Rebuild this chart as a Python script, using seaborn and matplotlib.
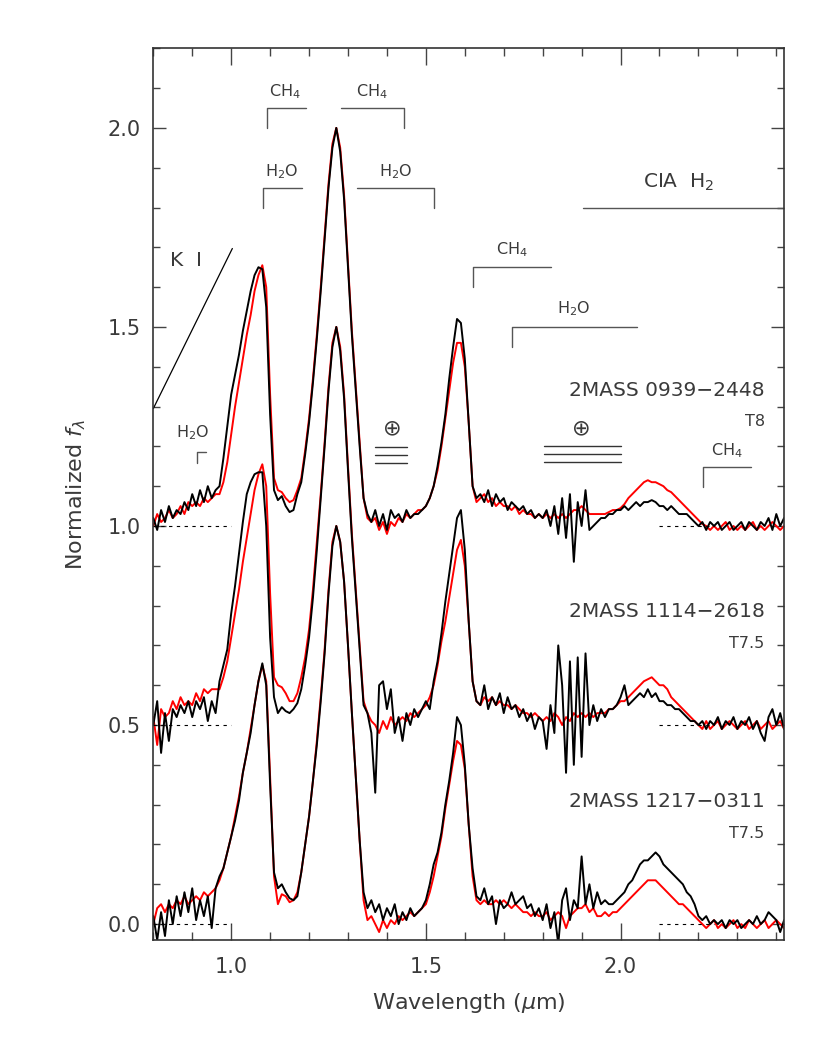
import numpy as np
import pandas as pd
import matplotlib
matplotlib.use('Agg')
import matplotlib.pyplot as plt
from matplotlib.ticker import MultipleLocator, FormatStrFormatter
import seaborn as sns

sns.set_style('ticks')
plt.rcParams['font.family'] = ['DejaVu Sans']
plt.rcParams['mathtext.fontset'] = 'dejavusans'

# wavelength grid (micron) shared by all spectra
wavelength = [
    0.80, 0.81, 0.82, 0.83, 0.84, 0.85, 0.86, 0.87, 0.88, 0.89,
    0.90, 0.91, 0.92, 0.93, 0.94, 0.95, 0.96, 0.97, 0.98, 0.99,
    1.00, 1.01, 1.02, 1.03, 1.04, 1.05, 1.06, 1.07, 1.08, 1.09,
    1.10, 1.11, 1.12, 1.13, 1.14, 1.15, 1.16, 1.17, 1.18, 1.19,
    1.20, 1.21, 1.22, 1.23, 1.24, 1.25, 1.26, 1.27, 1.28, 1.29,
    1.30, 1.31, 1.32, 1.33, 1.34, 1.35, 1.36, 1.37, 1.38, 1.39,
    1.40, 1.41, 1.42, 1.43, 1.44, 1.45, 1.46, 1.47, 1.48, 1.49,
    1.50, 1.51, 1.52, 1.53, 1.54, 1.55, 1.56, 1.57, 1.58, 1.59,
    1.60, 1.61, 1.62, 1.63, 1.64, 1.65, 1.66, 1.67, 1.68, 1.69,
    1.70, 1.71, 1.72, 1.73, 1.74, 1.75, 1.76, 1.77, 1.78, 1.79,
    1.80, 1.81, 1.82, 1.83, 1.84, 1.85, 1.86, 1.87, 1.88, 1.89,
    1.90, 1.91, 1.92, 1.93, 1.94, 1.95, 1.96, 1.97, 1.98, 1.99,
    2.00, 2.01, 2.02, 2.03, 2.04, 2.05, 2.06, 2.07, 2.08, 2.09,
    2.10, 2.11, 2.12, 2.13, 2.14, 2.15, 2.16, 2.17, 2.18, 2.19,
    2.20, 2.21, 2.22, 2.23, 2.24, 2.25, 2.26, 2.27, 2.28, 2.29,
    2.30, 2.31, 2.32, 2.33, 2.34, 2.35, 2.36, 2.37, 2.38, 2.39,
    2.40, 2.41, 2.42,
]

# normalized fluxes (peak of J band = 1), before vertical offsets
j0939_obs = [
    0.02, -0.01, 0.04, 0.01, 0.05, 0.02, 0.04, 0.03, 0.06, 0.04,
    0.08, 0.05, 0.09, 0.06, 0.10, 0.07, 0.09, 0.10, 0.17, 0.25,
    0.33, 0.38, 0.43, 0.49, 0.54, 0.59, 0.63, 0.65, 0.645, 0.55,
    0.28, 0.09, 0.065, 0.075, 0.05, 0.035, 0.04, 0.08, 0.11, 0.18,
    0.26, 0.36, 0.47, 0.59, 0.72, 0.85, 0.95, 1.00, 0.94, 0.82,
    0.65, 0.48, 0.34, 0.20, 0.07, 0.03, 0.01, 0.04, 0.00, 0.03,
    -0.01, 0.04, 0.02, 0.03, 0.01, 0.04, 0.02, 0.03, 0.03, 0.04,
    0.05, 0.07, 0.10, 0.15, 0.21, 0.28, 0.37, 0.45, 0.52, 0.51,
    0.42, 0.26, 0.10, 0.07, 0.08, 0.06, 0.09, 0.05, 0.08, 0.06,
    0.07, 0.04, 0.06, 0.05, 0.04, 0.05, 0.03, 0.04, 0.02, 0.03,
    0.02, 0.04, 0.00, 0.05, -0.02, 0.07, -0.03, 0.08, -0.09, 0.06,
    0.00, 0.09, -0.01, 0.00, 0.01, 0.02, 0.02, 0.03, 0.03, 0.04,
    0.04, 0.05, 0.04, 0.05, 0.06, 0.05, 0.06, 0.06, 0.065, 0.06,
    0.05, 0.05, 0.04, 0.05, 0.04, 0.03, 0.03, 0.03, 0.02, 0.01,
    0.00, 0.01, -0.01, 0.01, 0.00, 0.01, -0.01, 0.00, 0.01, -0.01,
    0.00, 0.01, -0.01, 0.01, 0.00, -0.01, 0.01, 0.00, 0.02, -0.01,
    0.03, 0.00, 0.02,
]
j0939_std = [
    0.00, 0.03, 0.01, 0.02, 0.04, 0.02, 0.03, 0.05, 0.03, 0.06,
    0.05, 0.06, 0.05, 0.07, 0.06, 0.07, 0.08, 0.08, 0.11, 0.16,
    0.23, 0.30, 0.36, 0.42, 0.48, 0.53, 0.59, 0.63, 0.655, 0.60,
    0.33, 0.12, 0.09, 0.085, 0.07, 0.06, 0.065, 0.09, 0.12, 0.19,
    0.27, 0.37, 0.48, 0.60, 0.73, 0.86, 0.96, 1.00, 0.95, 0.83,
    0.66, 0.49, 0.35, 0.21, 0.07, 0.02, 0.01, 0.02, -0.01, 0.01,
    -0.02, 0.01, 0.00, 0.02, 0.01, 0.03, 0.02, 0.03, 0.04, 0.04,
    0.05, 0.07, 0.10, 0.14, 0.20, 0.27, 0.34, 0.41, 0.46, 0.46,
    0.40, 0.26, 0.10, 0.06, 0.07, 0.08, 0.06, 0.07, 0.05, 0.06,
    0.05, 0.05, 0.04, 0.05, 0.03, 0.04, 0.03, 0.03, 0.02, 0.03,
    0.02, 0.03, 0.02, 0.03, 0.02, 0.03, 0.02, 0.03, 0.04, 0.04,
    0.05, 0.04, 0.03, 0.03, 0.03, 0.03, 0.03, 0.035, 0.04, 0.04,
    0.045, 0.055, 0.07, 0.08, 0.09, 0.10, 0.11, 0.115, 0.11, 0.11,
    0.105, 0.10, 0.09, 0.085, 0.075, 0.065, 0.055, 0.045, 0.035, 0.025,
    0.015, 0.005, 0.00, -0.01, 0.00, -0.01, 0.00, 0.01, -0.01, 0.00,
    -0.01, 0.00, -0.01, 0.00, 0.01, -0.01, 0.00, -0.01, 0.00, 0.01,
    0.00, -0.01, 0.00,
]
j1114_obs = [
    0.00, 0.06, -0.07, 0.03, -0.04, 0.04, 0.02, 0.05, 0.03, 0.06,
    0.02, 0.06, 0.04, 0.07, 0.01, 0.06, 0.03, 0.11, 0.15, 0.19,
    0.28, 0.35, 0.43, 0.51, 0.58, 0.61, 0.63, 0.635, 0.635, 0.50,
    0.22, 0.07, 0.03, 0.045, 0.035, 0.03, 0.04, 0.055, 0.09, 0.15,
    0.22, 0.32, 0.44, 0.57, 0.70, 0.84, 0.95, 1.00, 0.94, 0.82,
    0.64, 0.47, 0.33, 0.19, 0.05, 0.03, -0.02, -0.17, 0.10, 0.11,
    0.04, 0.09, -0.02, 0.02, -0.04, 0.03, 0.00, 0.04, 0.02, 0.04,
    0.06, 0.04, 0.11, 0.16, 0.23, 0.31, 0.38, 0.45, 0.52, 0.54,
    0.44, 0.26, 0.11, 0.06, 0.05, 0.10, 0.04, 0.07, 0.05, 0.08,
    0.03, 0.07, 0.04, 0.05, 0.02, 0.04, 0.01, 0.03, -0.01, 0.02,
    0.01, -0.06, 0.05, -0.02, 0.20, 0.10, -0.12, 0.16, -0.10, 0.17,
    -0.08, 0.18, 0.00, 0.05, 0.01, 0.04, 0.02, 0.04, 0.04, 0.05,
    0.07, 0.10, 0.05, 0.06, 0.07, 0.08, 0.07, 0.09, 0.07, 0.08,
    0.06, 0.06, 0.05, 0.05, 0.04, 0.04, 0.03, 0.02, 0.01, 0.01,
    0.00, 0.01, -0.01, 0.01, 0.00, 0.02, -0.01, 0.01, 0.00, 0.02,
    -0.01, 0.01, 0.00, 0.02, -0.01, 0.01, -0.02, -0.04, 0.02, 0.04,
    0.00, 0.03, -0.01,
]
j1114_std = [
    0.02, -0.05, 0.04, 0.02, 0.03, 0.06, 0.04, 0.07, 0.05, 0.06,
    0.05, 0.08, 0.06, 0.09, 0.08, 0.09, 0.09, 0.09, 0.12, 0.16,
    0.22, 0.28, 0.34, 0.41, 0.47, 0.53, 0.59, 0.63, 0.655, 0.60,
    0.33, 0.12, 0.10, 0.095, 0.08, 0.06, 0.06, 0.08, 0.12, 0.17,
    0.24, 0.34, 0.46, 0.58, 0.71, 0.85, 0.96, 1.00, 0.95, 0.83,
    0.65, 0.48, 0.34, 0.20, 0.06, 0.03, 0.01, 0.00, -0.02, 0.01,
    -0.01, 0.02, 0.00, 0.01, 0.02, 0.01, 0.03, 0.02, 0.03, 0.04,
    0.05, 0.07, 0.10, 0.15, 0.21, 0.26, 0.32, 0.38, 0.44, 0.465,
    0.40, 0.26, 0.11, 0.06, 0.05, 0.07, 0.06, 0.07, 0.05, 0.06,
    0.05, 0.05, 0.04, 0.05, 0.04, 0.03, 0.03, 0.02, 0.03, 0.02,
    0.01, 0.02, 0.01, 0.03, 0.02, 0.00, 0.02, 0.01, 0.03, 0.02,
    0.03, 0.02, 0.03, 0.02, 0.03, 0.03, 0.03, 0.04, 0.04, 0.05,
    0.06, 0.06, 0.07, 0.08, 0.09, 0.10, 0.11, 0.115, 0.12, 0.11,
    0.10, 0.10, 0.09, 0.07, 0.06, 0.05, 0.04, 0.03, 0.02, 0.01,
    0.00, -0.01, 0.01, -0.01, 0.00, 0.01, -0.01, 0.00, 0.01, 0.00,
    -0.01, 0.00, 0.01, -0.01, 0.00, 0.01, -0.01, 0.00, 0.01, -0.01,
    0.00, 0.01, -0.01,
]
j1217_obs = [
    0.02, -0.04, 0.03, -0.03, 0.06, 0.00, 0.07, 0.02, 0.08, 0.03,
    0.09, 0.01, 0.06, 0.02, 0.07, -0.01, 0.09, 0.12, 0.14, 0.18,
    0.22, 0.26, 0.31, 0.38, 0.43, 0.48, 0.55, 0.61, 0.655, 0.60,
    0.35, 0.13, 0.09, 0.10, 0.08, 0.065, 0.06, 0.07, 0.13, 0.20,
    0.27, 0.36, 0.45, 0.56, 0.68, 0.83, 0.95, 1.00, 0.96, 0.86,
    0.70, 0.53, 0.37, 0.21, 0.08, 0.04, 0.06, 0.03, 0.05, 0.01,
    0.04, 0.02, 0.05, 0.00, 0.03, 0.01, 0.04, 0.02, 0.03, 0.04,
    0.06, 0.10, 0.15, 0.18, 0.23, 0.30, 0.36, 0.43, 0.52, 0.50,
    0.40, 0.25, 0.14, 0.07, 0.06, 0.09, 0.05, 0.07, 0.00, 0.06,
    0.04, 0.05, 0.08, 0.05, 0.06, 0.07, 0.04, 0.05, 0.02, 0.04,
    0.01, 0.05, -0.01, 0.03, -0.05, 0.06, 0.09, 0.01, 0.06, 0.04,
    0.17, 0.05, 0.10, 0.04, 0.08, 0.05, 0.06, 0.05, 0.05, 0.06,
    0.07, 0.08, 0.10, 0.11, 0.13, 0.15, 0.16, 0.16, 0.17, 0.18,
    0.17, 0.15, 0.14, 0.13, 0.12, 0.11, 0.10, 0.08, 0.07, 0.05,
    0.02, 0.01, 0.02, 0.00, 0.01, 0.00, 0.01, -0.01, 0.01, 0.00,
    0.01, -0.01, 0.00, 0.01, 0.00, 0.02, 0.00, 0.01, 0.03, 0.02,
    0.01, -0.02, 0.01,
]
j1217_std = [
    0.00, 0.04, 0.05, 0.03, 0.05, 0.04, 0.06, 0.05, 0.07, 0.05,
    0.06, 0.07, 0.06, 0.08, 0.07, 0.08, 0.09, 0.11, 0.14, 0.18,
    0.22, 0.27, 0.32, 0.38, 0.43, 0.49, 0.55, 0.61, 0.65, 0.61,
    0.37, 0.12, 0.05, 0.075, 0.07, 0.055, 0.06, 0.08, 0.13, 0.20,
    0.27, 0.36, 0.46, 0.57, 0.69, 0.84, 0.96, 1.00, 0.96, 0.86,
    0.70, 0.53, 0.37, 0.21, 0.06, 0.01, 0.02, 0.00, -0.02, 0.01,
    -0.01, 0.01, 0.00, 0.02, 0.01, 0.02, 0.03, 0.02, 0.03, 0.04,
    0.05, 0.08, 0.12, 0.17, 0.22, 0.29, 0.35, 0.41, 0.46, 0.45,
    0.39, 0.25, 0.12, 0.06, 0.05, 0.06, 0.05, 0.05, 0.06, 0.05,
    0.06, 0.05, 0.04, 0.05, 0.04, 0.03, 0.03, 0.02, 0.03, 0.02,
    0.02, 0.03, 0.01, 0.02, 0.03, 0.02, -0.01, 0.02, 0.03, 0.04,
    0.04, 0.05, 0.03, 0.04, 0.02, 0.02, 0.03, 0.02, 0.03, 0.03,
    0.04, 0.05, 0.06, 0.07, 0.08, 0.09, 0.10, 0.11, 0.11, 0.11,
    0.10, 0.09, 0.08, 0.07, 0.06, 0.05, 0.05, 0.04, 0.03, 0.02,
    0.01, 0.00, -0.01, 0.00, 0.01, -0.01, 0.00, -0.01, 0.00, 0.01,
    -0.01, 0.00, -0.01, 0.01, 0.00, -0.01, 0.00, 0.01, -0.01, 0.00,
    0.01, 0.00, -0.01,
]

names = ['2MASS 0939\u22122448', '2MASS 1114\u22122618', '2MASS 1217\u22120311']
sptypes = ['T8', 'T7.5', 'T7.5']
offsets = [1.0, 0.5, 0.0]
observed = [j0939_obs, j1114_obs, j1217_obs]
standards = [j0939_std, j1114_std, j1217_std]

frames = []
for name, off, obs, std in zip(names, offsets, observed, standards):
    for kind, flux in (('std', std), ('obs', obs)):
        frames.append(pd.DataFrame({'wavelength': wavelength,
                                    'flux': np.array(flux) + off,
                                    'object': name, 'kind': kind}))
df = pd.concat(frames, ignore_index=True)

txt = '#3a3a3a'
fig = plt.figure(figsize=(8.30, 10.38), dpi=100)
ax = fig.add_axes([0.1847, 0.0944, 0.76, 0.8591])

for name in names:
    sns.lineplot(data=df[df['object'] == name], x='wavelength', y='flux',
                 hue='kind', hue_order=['std', 'obs'],
                 palette={'std': 'red', 'obs': 'black'},
                 estimator=None, sort=False, legend=False, lw=1.4, ax=ax)

# zero levels
for off in offsets:
    ax.plot([0.80, 1.00], [off, off], ls=(0, (3, 4)), color='black', lw=0.8)
    ax.plot([2.10, 2.24], [off, off], ls=(0, (3, 4)), color='black', lw=0.8)

# object names and spectral types
name_y = [1.34, 0.784, 0.308]
type_y = [1.262, 0.706, 0.227]
for name, sp, ny, ty in zip(names, sptypes, name_y, type_y):
    ax.text(2.37, ny, name, ha='right', va='center', fontsize=14.5, color=txt)
    ax.text(2.37, ty, sp, ha='right', va='center', fontsize=11.5, color=txt)

# absorption band brackets: (x_corner, x_end, y_top, y_bottom, label, label_x, label_y)
bands = [
    (1.091, 1.192, 2.05, 2.00, 'CH$_4$', 1.139, 2.09),
    (1.443, 1.282, 2.05, 2.00, 'CH$_4$', 1.362, 2.09),
    (1.081, 1.182, 1.85, 1.80, 'H$_2$O', 1.130, 1.89),
    (1.522, 1.323, 1.85, 1.80, 'H$_2$O', 1.422, 1.89),
    (1.621, 1.822, 1.65, 1.60, 'CH$_4$', 1.722, 1.695),
    (1.722, 2.043, 1.50, 1.45, 'H$_2$O', 1.880, 1.545),
    (2.213, 2.335, 1.147, 1.098, 'CH$_4$', 2.273, 1.19),
    (0.912, 0.935, 1.187, 1.157, 'H$_2$O', 0.900, 1.235),
]
for xc, xe, yt, yb, lab, lx, ly in bands:
    ax.plot([xc, xc, xe], [yb, yt, yt], color='#555555', lw=1.0)
    ax.text(lx, ly, lab, ha='center', va='center', fontsize=11.5, color=txt)

# CIA H2
ax.plot([1.904, 2.42], [1.80, 1.80], color='#555555', lw=1.0)
ax.text(2.15, 1.863, 'CIA  H$_2$', ha='center', va='center', fontsize=14.5, color=txt)

# K I
ax.plot([0.80, 1.003], [1.295, 1.697], color='black', lw=0.9)
ax.text(0.885, 1.666, 'K  I', ha='center', va='center', fontsize=14.5, color=txt)

# telluric regions
for x0, x1, xs, ys, ylines in [(1.37, 1.452, 1.413, 1.244, [1.198, 1.179, 1.158]),
                               (1.803, 2.002, 1.90, 1.245, [1.201, 1.181, 1.160])]:
    for yl in ylines:
        ax.plot([x0, x1], [yl, yl], color='#333333', lw=1.0)
    ax.text(xs, ys, '\u2295', ha='center', va='center', fontsize=16, color=txt)

ax.set_xlim(0.80, 2.42)
ax.set_ylim(-0.04, 2.2)
ax.xaxis.set_major_locator(MultipleLocator(0.5))
ax.xaxis.set_minor_locator(MultipleLocator(0.1))
ax.yaxis.set_major_locator(MultipleLocator(0.5))
ax.yaxis.set_minor_locator(MultipleLocator(0.1))
ax.xaxis.set_major_formatter(FormatStrFormatter('%.1f'))
ax.yaxis.set_major_formatter(FormatStrFormatter('%.1f'))
ax.tick_params(which='both', direction='in', top=True, right=True,
               color='#444444', labelcolor=txt, labelsize=15)
ax.tick_params(axis='x', which='major', length=12, width=1.0, pad=12)
ax.tick_params(axis='x', which='minor', length=6, width=1.0)
ax.tick_params(axis='y', which='major', length=9.5, width=1.0, pad=9)
ax.tick_params(axis='y', which='minor', length=5, width=1.0)
for sp in ax.spines.values():
    sp.set_color('#333333')
    sp.set_linewidth(1.2)

ax.set_xlabel('Wavelength ($\\mu$m)', fontsize=16, color=txt, labelpad=10)
ax.set_ylabel('Normalized $f_{\\lambda}$', fontsize=16, color=txt, labelpad=14)

fig.savefig('out.png', dpi=100)
